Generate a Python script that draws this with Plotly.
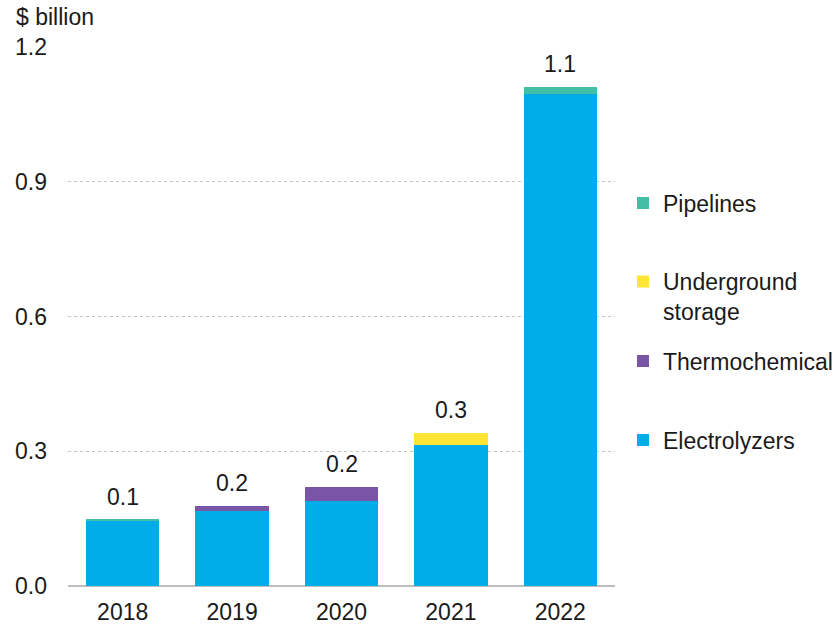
import plotly.graph_objects as go

years = ["2018", "2019", "2020", "2021", "2022"]
electrolyzers = [0.146, 0.167, 0.190, 0.314, 1.096]
thermochemical = [0.0, 0.012, 0.030, 0.0, 0.0]
underground_storage = [0.0, 0.0, 0.0, 0.027, 0.0]
pipelines = [0.002, 0.0, 0.0, 0.0, 0.015]

series = [
    ("Electrolyzers", electrolyzers, "#00ADE6", "legend4"),
    ("Thermochemical", thermochemical, "#7A55A6", "legend3"),
    ("Underground<br>storage", underground_storage, "#FFE535", "legend2"),
    ("Pipelines", pipelines, "#45BEA8", "legend"),
]

FONT = "Liberation Sans, Arial, sans-serif"
FS = 23

fig = go.Figure()
for name, vals, color, leg in series:
    fig.add_trace(go.Bar(
        x=years, y=vals, name=name,
        marker=dict(color=color, line=dict(width=0)),
        legend=leg,
        hoverinfo="skip",
    ))

# total labels above each stack (category index used for x so the
# numeric-looking year strings are not read as positions)
totals = [sum(v) for v in zip(electrolyzers, thermochemical, underground_storage, pipelines)]
for i, tot in enumerate(totals):
    fig.add_annotation(
        x=i, y=tot, text=f"{tot:.1f}", showarrow=False,
        yanchor="bottom", yshift=8,
        font=dict(family=FONT, size=FS, color="#1a1a1a"),
    )

fig.add_annotation(
    xref="paper", yref="paper", x=-0.099, y=1.056,
    xanchor="left", yanchor="middle", showarrow=False,
    text="$ billion", font=dict(family=FONT, size=FS, color="#1a1a1a"),
)

def legend_box(y, valign="middle"):
    return dict(
        x=1.0146, xanchor="left", y=y, yanchor="middle",
        bgcolor="rgba(0,0,0,0)", borderwidth=0,
        font=dict(family=FONT, size=FS, color="#1a1a1a"),
        valign=valign, itemclick=False, itemdoubleclick=False,
    )

fig.update_layout(
    width=838, height=625,
    margin=dict(l=68, r=223, t=47, b=39, autoexpand=False),
    barmode="stack",
    bargap=0.33,
    plot_bgcolor="white", paper_bgcolor="white",
    font=dict(family=FONT, size=FS, color="#1a1a1a"),
    showlegend=True,
    legend=legend_box(0.7106),
    legend2=legend_box(0.537, "top"),
    legend3=legend_box(0.4174),
    legend4=legend_box(0.2709),
    xaxis=dict(
        type="category", range=[-0.5, 4.5],
        showgrid=False, showline=False, zeroline=False,
        ticks="", ticklabelstandoff=10,
        tickfont=dict(family=FONT, size=FS, color="#1a1a1a"),
    ),
    yaxis=dict(
        range=[0, 1.2005], tickvals=[0, 0.3, 0.6, 0.9, 1.2],
        tickformat=".1f",
        showgrid=True, gridcolor="#c4c4c4", griddash="dot", gridwidth=1,
        zeroline=True, zerolinecolor="#bdbdbd", zerolinewidth=2,
        showline=False, ticks="", ticklabelstandoff=20,
        tickfont=dict(family=FONT, size=FS, color="#1a1a1a"),
    ),
)

fig.write_html("out.html")
